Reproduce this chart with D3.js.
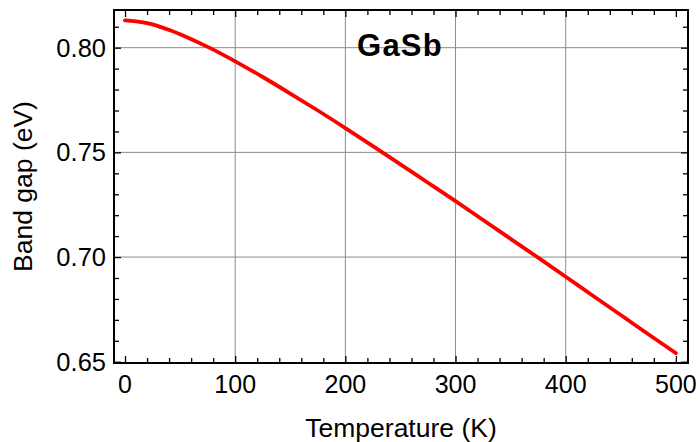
<!DOCTYPE html>
<html>
<head>
<meta charset="utf-8">
<script src="https://cdn.jsdelivr.net/npm/d3@7"></script>
<style>
  body { margin: 0; background: #fff; }
  text { font-family: "Liberation Sans", Arial, sans-serif; fill: #000; }
</style>
</head>
<body>
<script>
// band gap of GaSb
var temps = [0, 10, 20, 30, 40, 50, 75, 100, 125, 150, 175, 200, 225, 250,
             275, 300, 325, 350, 375, 400, 425, 450, 475, 500];
var gaps = [0.8130, 0.8126, 0.8117, 0.8103, 0.8085, 0.8064, 0.8004, 0.7935,
            0.7860, 0.7781, 0.7700, 0.7616, 0.7530, 0.7443, 0.7355, 0.7267,
            0.7177, 0.7087, 0.6997, 0.6906, 0.6814, 0.6723, 0.6631, 0.6541];
var xTicks = [0, 100, 200, 300, 400, 500];
var yTicks = [0.65, 0.70, 0.75, 0.80];
var title = "GaSb";

var width = 698, height = 442;
var margin = { top: 10, right: 10, bottom: 79, left: 114 };

var svg = d3.select("body").append("svg")
    .attr("width", width)
    .attr("height", height);

var x = d3.scaleLinear().domain([-10, 511]).range([margin.left, width - margin.right]);
var y = d3.scaleLinear().domain([0.6494, 0.8180]).range([height - margin.bottom, margin.top]);

var x0 = margin.left, x1 = width - margin.right;
var y0 = height - margin.bottom, y1 = margin.top;

// grid
var grid = svg.append("g").attr("stroke", "#8c8c8c").attr("stroke-width", 1);
xTicks.filter(function(t) { return t > 0 && t < 500; }).forEach(function(t) {
    grid.append("line").attr("x1", x(t)).attr("x2", x(t)).attr("y1", y0).attr("y2", y1);
});
yTicks.filter(function(t) { return t > 0.65; }).forEach(function(t) {
    grid.append("line").attr("x1", x0).attr("x2", x1).attr("y1", y(t)).attr("y2", y(t));
});

// ticks, inward on all four sides
var xMinor = d3.range(0, 501, 20).filter(function(t) { return t % 100 !== 0; });
var yMinor = d3.range(65, 82).map(function(v) { return v / 100; })
    .filter(function(t) { return Math.round(t * 100) % 5 !== 0; });

function addAxis(ax, tr) {
    var g = svg.append("g").attr("transform", tr).call(ax);
    g.select(".domain").remove();
    g.selectAll("line").attr("stroke", "#000").attr("stroke-width", 1.3);
}
addAxis(d3.axisTop(x).tickValues(xTicks).tickSize(7).tickFormat(""), "translate(0," + y0 + ")");
addAxis(d3.axisTop(x).tickValues(xMinor).tickSize(5).tickFormat(""), "translate(0," + y0 + ")");
addAxis(d3.axisBottom(x).tickValues(xTicks).tickSize(7).tickFormat(""), "translate(0," + y1 + ")");
addAxis(d3.axisBottom(x).tickValues(xMinor).tickSize(5).tickFormat(""), "translate(0," + y1 + ")");
addAxis(d3.axisRight(y).tickValues(yTicks).tickSize(7).tickFormat(""), "translate(" + x0 + ",0)");
addAxis(d3.axisRight(y).tickValues(yMinor).tickSize(5).tickFormat(""), "translate(" + x0 + ",0)");
addAxis(d3.axisLeft(y).tickValues(yTicks).tickSize(7).tickFormat(""), "translate(" + x1 + ",0)");
addAxis(d3.axisLeft(y).tickValues(yMinor).tickSize(5).tickFormat(""), "translate(" + x1 + ",0)");

// tick labels
svg.append("g").selectAll("text")
    .data(xTicks)
    .enter().append("text")
    .attr("x", function(d) { return x(d); })
    .attr("y", 392.5)
    .attr("text-anchor", "middle")
    .style("font-size", "25px")
    .text(function(d) { return d; });

svg.append("g").selectAll("text")
    .data(yTicks)
    .enter().append("text")
    .attr("x", 106)
    .attr("y", function(d) { return y(d) + 9; })
    .attr("text-anchor", "end")
    .style("font-size", "25.5px")
    .text(function(d) { return d.toFixed(2); });

// the curve
var line = d3.line()
    .x(function(d, i) { return x(temps[i]); })
    .y(function(d) { return y(d); })
    .curve(d3.curveNatural);

svg.append("path")
    .datum(gaps)
    .attr("d", line)
    .attr("fill", "none")
    .attr("stroke", "#ff0000")
    .attr("stroke-width", 3.8)
    .attr("stroke-linecap", "round");

// frame
svg.append("rect")
    .attr("x", x0).attr("y", y1)
    .attr("width", x1 - x0).attr("height", y0 - y1)
    .attr("fill", "none")
    .attr("stroke", "#000")
    .attr("stroke-width", 2);

// title
svg.append("text")
    .attr("x", 400)
    .attr("y", 56)
    .attr("text-anchor", "middle")
    .style("font-size", "31px")
    .style("font-weight", "bold")
    .style("letter-spacing", "1.2px")
    .text(title);

// axis labels
svg.append("text")
    .attr("x", (x0 + x1) / 2)
    .attr("y", 436.5)
    .attr("text-anchor", "middle")
    .style("font-size", "26.5px")
    .text("Temperature (K)");

svg.append("text")
    .attr("transform", "translate(32," + (y0 + y1) / 2 + ") rotate(-90)")
    .attr("text-anchor", "middle")
    .style("font-size", "26.5px")
    .text("Band gap (eV)");
</script>
</body>
</html>
